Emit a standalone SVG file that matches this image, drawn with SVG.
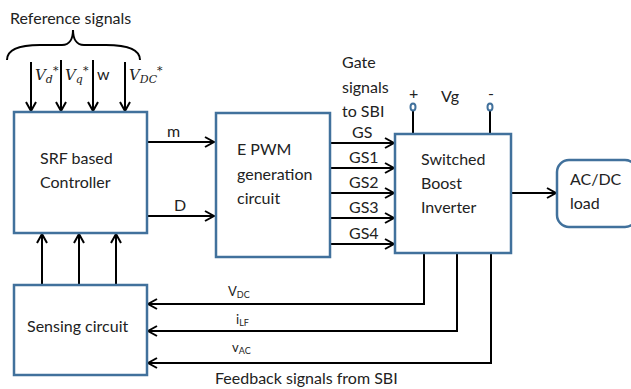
<svg xmlns="http://www.w3.org/2000/svg" width="631" height="389" viewBox="0 0 631 389">
<defs>
<marker id="ah" markerWidth="12" markerHeight="12" refX="10" refY="6" orient="auto" markerUnits="userSpaceOnUse">
<path d="M1,1 L10,6 L1,11" fill="none" stroke="#000" stroke-width="2"/>
</marker>
</defs>
<style>
.box{fill:#fff;stroke:#41719c;stroke-width:2.5}
.ln{fill:none;stroke:#000;stroke-width:2}
.t{font-family:Lato,"Open Sans",sans-serif;font-size:16px;fill:#222}
.s{font-family:Lato,"Open Sans",sans-serif;font-size:13px;fill:#222}
.m{font-family:"DejaVu Serif","Liberation Serif",serif;font-style:italic;font-size:15px;fill:#222}
</style>
<rect width="631" height="389" fill="#fff"/>
<text class="t" x="10" y="24">Reference signals</text>
<path class="ln" stroke-width="1.3" d="M7,60 C7,49 20,45 40,45 L62,45 C70,45 73,38 73,30 C73,38 76,45 84,45 L106,45 C126,45 140,49 140,60"/>
<g id="connectors">
<line class="ln" x1="31" y1="62" x2="31" y2="111" marker-end="url(#ah)"/>
<line class="ln" x1="61" y1="60" x2="61" y2="111" marker-end="url(#ah)"/>
<line class="ln" x1="93" y1="60" x2="93" y2="111" marker-end="url(#ah)"/>
<line class="ln" x1="125" y1="62" x2="125" y2="111" marker-end="url(#ah)"/>
<line class="ln" x1="147" y1="142" x2="214" y2="142" marker-end="url(#ah)"/>
<line class="ln" x1="147" y1="216" x2="214" y2="216" marker-end="url(#ah)"/>
<line class="ln" x1="330" y1="143" x2="394" y2="143" marker-end="url(#ah)"/>
<line class="ln" x1="330" y1="168" x2="394" y2="168" marker-end="url(#ah)"/>
<line class="ln" x1="330" y1="193" x2="394" y2="193" marker-end="url(#ah)"/>
<line class="ln" x1="330" y1="218" x2="394" y2="218" marker-end="url(#ah)"/>
<line class="ln" x1="330" y1="244" x2="394" y2="244" marker-end="url(#ah)"/>
<line class="ln" x1="511" y1="193" x2="556" y2="193" marker-end="url(#ah)"/>
<line class="ln" x1="42" y1="285" x2="42" y2="234" marker-end="url(#ah)"/>
<line class="ln" x1="79" y1="285" x2="79" y2="234" marker-end="url(#ah)"/>
<line class="ln" x1="116" y1="285" x2="116" y2="234" marker-end="url(#ah)"/>
<polyline class="ln" points="424,253 424,304 148,304" marker-end="url(#ah)"/>
<polyline class="ln" points="457,253 457,331 148,331" marker-end="url(#ah)"/>
<polyline class="ln" points="491,253 491,363 148,363" marker-end="url(#ah)"/>
<line class="ln" x1="413" y1="111" x2="413" y2="134"/>
<line class="ln" x1="490" y1="111" x2="490" y2="134"/>
<ellipse cx="413" cy="107" rx="2.5" ry="3.5" fill="#fff" stroke="#41719c" stroke-width="2"/>
<ellipse cx="490" cy="107" rx="2.5" ry="3.5" fill="#fff" stroke="#41719c" stroke-width="2"/>
</g>
<text class="m" x="35" y="80">V<tspan font-size="11" dy="3">d</tspan><tspan font-size="11" dy="-9">*</tspan></text>
<text class="m" x="65" y="80">V<tspan font-size="11" dy="3">q</tspan><tspan font-size="11" dy="-9">*</tspan></text>
<text class="t" x="97" y="80">w</text>
<text class="m" x="129" y="80">V<tspan font-size="11" dy="3">DC</tspan><tspan font-size="11" dy="-9">*</tspan></text>
<g id="srf">
<rect class="box" x="14" y="112" width="133" height="121"/>
<text class="t" x="40" y="164">SRF based</text>
<text class="t" x="40" y="188">Controller</text>
</g>
<text class="t" x="167" y="137">m</text>
<text class="t" x="174" y="211">D</text>
<g id="epwm">
<rect class="box" x="216" y="113" width="114" height="144"/>
<text class="t" x="237" y="155">E PWM</text>
<text class="t" x="237" y="180">generation</text>
<text class="t" x="237" y="204">circuit</text>
</g>
<text class="t" x="342" y="68">Gate</text>
<text class="t" x="342" y="93">signals</text>
<text class="t" x="342" y="117">to SBI</text>
<text class="t" x="352" y="138">GS</text>
<text class="t" x="349" y="163">GS1</text>
<text class="t" x="349" y="188">GS2</text>
<text class="t" x="349" y="213">GS3</text>
<text class="t" x="349" y="239">GS4</text>
<text class="t" x="409" y="99">+</text>
<text class="t" x="441" y="102">Vg</text>
<text class="t" x="488" y="99">-</text>
<g id="sbi">
<rect class="box" x="395" y="134" width="116" height="119"/>
<text class="t" x="421" y="165">Switched</text>
<text class="t" x="421" y="189">Boost</text>
<text class="t" x="421" y="213">Inverter</text>
</g>
<g id="load">
<rect class="box" x="557" y="160" width="80" height="67" rx="12"/>
<text class="t" x="570" y="185">AC/DC</text>
<text class="t" x="570" y="209">load</text>
</g>
<g id="sensing">
<rect class="box" x="14" y="285" width="133" height="90"/>
<text class="t" x="27" y="332">Sensing circuit</text>
</g>
<text class="s" x="228" y="296">V<tspan font-size="9" dy="2">DC</tspan></text>
<text class="s" x="236" y="324">i<tspan font-size="9" dy="2">LF</tspan></text>
<text class="s" x="232" y="352">v<tspan font-size="9" dy="2">AC</tspan></text>
<text class="t" x="215" y="384">Feedback signals from SBI</text>
</svg>
